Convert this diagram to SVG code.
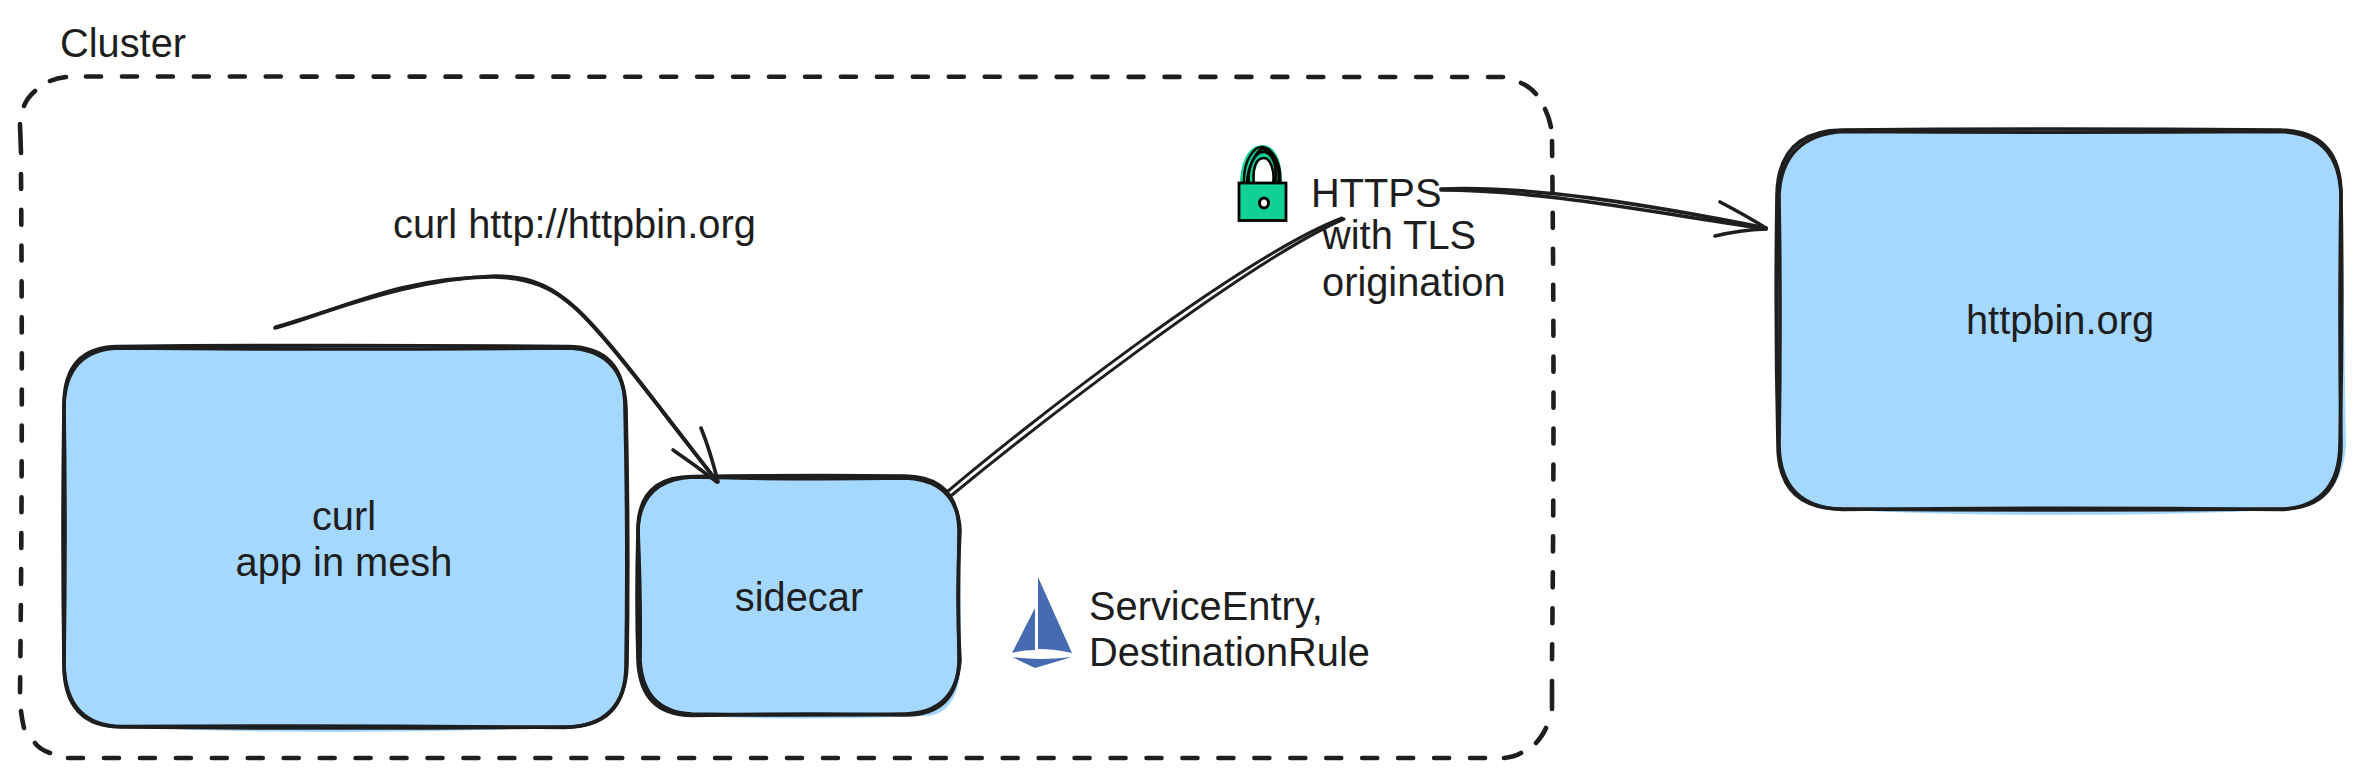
<svg xmlns="http://www.w3.org/2000/svg" width="2361" height="777" viewBox="0 0 2361 777">
<style>
text{font-family:"Liberation Sans",Arial,sans-serif;font-size:39.8px;fill:#1e1e1e}
.m{text-anchor:middle}
.fill{fill:#a5d8ff;stroke:none}
.ol{fill:none;stroke:#1e1e1e;stroke-width:3.6;stroke-linecap:round;stroke-linejoin:round}
.edge{fill:none;stroke:#1e1e1e;stroke-width:3.6;stroke-linecap:round;stroke-linejoin:round}
.thin{stroke-width:3}
.solid{fill:none;stroke:#1e1e1e;stroke-width:4.6;stroke-linecap:round}
.dash{stroke-dasharray:15 20.95}
.sh{fill:none;stroke:#000;stroke-width:2.4}
</style>
<rect width="2361" height="777" fill="#fff"/>
<g id="cluster">
<path class="solid dash" d="M86 76.5L1503 77"/>
<path class="solid dash" d="M68 758L1486 758"/>
<path class="solid dash" d="M21 174Q23 430 20 693"/>
<path class="solid dash" d="M1552 141Q1555 400 1552 660"/>
<path class="solid" d="M20 124L21 153M24 106Q27 98 35 91M50 81Q57 78 66 77M1521 83Q1530 87 1536 94M1545 109Q1549 117 1551 127M1552 681L1552 709M1546 728Q1543 735 1536 743M1521 753Q1514 757 1504 758M21 711Q22 720 24 728M35 743Q39 749 50 753"/>
<text x="60" y="57">Cluster</text>
</g>
<g id="curl">
<path class="fill" d="M118 347Q340 345 570 347Q625 347 626 408L628 665Q626 727 565 727Q340 737 120 727Q66 727 64 665L63 405Q64 347 118 347Z"/>
<path class="ol" d="M118 346.5Q340 344.5 568 346.5Q625 347 625 408Q628 540 626 665Q626 727 565 727Q340 729 122 727Q64 727 64 665Q62 535 64 405Q64 347 118 346.5Z"/>
<path class="ol" d="M118 348Q340 350 568 348Q624 350 626 408Q629 540 627 665Q625 726 565 727.5Q340 725 122 726.5Q66 726 64 665Q66 535 64 405Q66 350 118 348Z"/>
<text class="m" x="344" y="530">curl</text>
<text class="m" x="344" y="576">app in mesh</text>
</g>
<g id="sidecar">
<path class="fill" d="M692 477L905 477Q959 477 960 530L961 660Q960 715 925 716Q800 721 692 716Q638 715 638 660L638 530Q638 477 692 477Z"/>
<path class="ol" d="M692 476.5Q800 475 905 476Q958 477 959 530Q958 600 959 660Q958 715 905 715Q800 713 692 715.5Q640 715 638 660Q636 600 638 530Q638 477 692 476.5Z"/>
<path class="ol" d="M692 477Q800 480 905 478Q957 480 960 530Q956 600 960 660Q956 713 905 714Q800 716 692 714Q643 712 640 660Q641 600 638 530Q640 480 692 477Z"/>
<text class="m" x="799" y="611">sidecar</text>
</g>
<g id="httpbin">
<path class="fill" d="M1842 131L2280 131Q2341 131 2342 195L2346 445Q2342 509 2280 510Q2060 520 1842 510Q1778 509 1778 445L1778 195Q1778 131 1842 131Z"/>
<path class="ol" d="M1842 130Q2060 128 2280 130Q2341 131 2341 195Q2339 320 2341 445Q2341 509 2280 509Q2060 511 1842 509Q1778 509 1778 445Q1775 320 1777 195Q1778 131 1842 130Z"/>
<path class="ol" d="M1842 131.5Q2060 133 2280 131.5Q2339 133 2341 195Q2343 320 2340 445Q2339 507 2280 509.5Q2060 507 1842 509.5Q1780 507 1779 445Q1781 320 1779 195Q1782 136 1842 131.5Z"/>
<text class="m" x="2060" y="334">httpbin.org</text>
</g>
<g id="connectors">
<path class="edge" d="M275 328C335 312 400 276 495 277C530 278 552 287 575 308C610 340 660 410 716 480"/>
<path class="edge" d="M276 327C335 310 410 279 495 276C535 276 556 290 577 309C614 344 664 414 716 480"/>
<path class="edge" d="M673 450Q695 465 717 482M701 428Q710 450 718 482"/>
<path class="edge thin" d="M947 492C1020 430 1240 257 1342 218"/>
<path class="edge thin" d="M952 495C1025 435 1245 262 1344 219"/>
<path class="edge" d="M1441 189C1530 185 1650 205 1766 228"/>
<path class="edge" d="M1441 190C1540 190 1650 212 1766 229"/>
<path class="edge" d="M1720 202Q1745 215 1766 228M1715 236Q1740 230 1766 229"/>
</g>
<g id="lock">
<path d="M1240 186C1240 160 1250 145 1262 145C1275 145 1283 160 1282 186L1273 186C1274 165 1268 158 1264 158C1258 158 1254 170 1254 186Z" fill="#10d096"/>
<path class="sh" d="M1244 184C1243 160 1254 147 1262 147C1272 148 1282 162 1280 184M1249 184C1247 165 1256 152 1263 152C1272 152 1278 165 1275 184M1254 184C1252 168 1256 158 1264 158C1270 158 1275 170 1273 184M1247 184C1247 165 1258 149 1263 149C1272 150 1281 165 1278 184"/>
<rect x="1239" y="183" width="47" height="37.5" fill="#10d096" stroke="#000" stroke-width="2.8"/>
<ellipse cx="1264" cy="203" rx="4.5" ry="5" fill="#fff" stroke="#000" stroke-width="3"/>
</g>
<g id="https-label">
<text x="1311" y="207">HTTPS</text>
<text x="1322" y="249">with TLS</text>
<text x="1322" y="296">origination</text>
</g>
<g id="curl-label"><text x="393" y="238">curl http://httpbin.org</text></g>
<g id="istio">
<path fill="#466bb0" d="M1038 577L1072 653Q1055 649 1038 649ZM1035 608L1035 650Q1022 650 1012 653ZM1012 657Q1040 661 1072 657L1035 668Z"/>
<text x="1089" y="620">ServiceEntry,</text>
<text x="1089" y="666">DestinationRule</text>
</g>
</svg>
